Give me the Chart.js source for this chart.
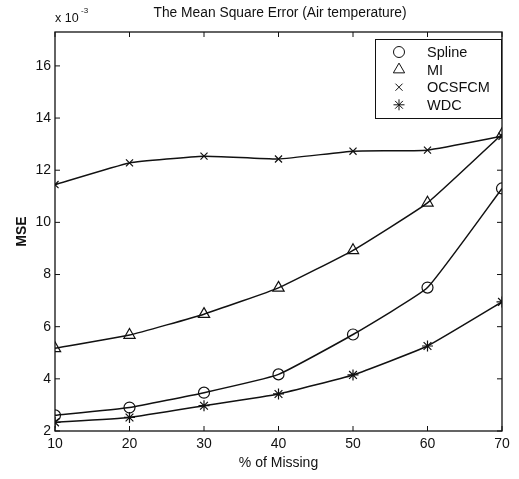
<!DOCTYPE html>
<html>
<head>
<meta charset="utf-8">
<script src="https://cdn.jsdelivr.net/npm/chart.js@4/dist/chart.umd.min.js"></script>
<style>
  html, body { margin: 0; padding: 0; background: #fff; }
  #wrap { width: 519px; height: 479px; }
</style>
</head>
<body>
<div id="wrap"><canvas id="mse-chart" width="519" height="479"></canvas></div>
<script>
// ---- Data: MSE (x 10^-3) per percentage of missing values ----
const missing = [10, 20, 30, 40, 50, 60, 70];
const spline = [2.6, 2.9, 3.47, 4.17, 5.7, 7.5, 11.3];
const mi = [5.17, 5.68, 6.48, 7.49, 8.93, 10.75, 13.38];
const ocsfcm = [11.45, 12.28, 12.54, 12.43, 12.73, 12.77, 13.3];
const wdc = [2.33, 2.52, 2.97, 3.42, 4.15, 5.26, 6.95];
const seriesNames = ['Spline', 'MI', 'OCSFCM', 'WDC'];
const yTicks = [2, 4, 6, 8, 10, 12, 14, 16];
const xTicks = [10, 20, 30, 40, 50, 60, 70];

const FONT = '"Liberation Sans", Arial, Helvetica, sans-serif';

function toPoints(values) {
    return values.map(function (v, i) {
        return { x: missing[i], y: v };
    });
}

function makeSeries(label, values, style, radius) {
    return {
        label: label,
        data: toPoints(values),
        borderColor: '#111',
        borderWidth: 1.5,
        pointStyle: style,
        pointRadius: radius,
        pointBorderColor: '#111',
        pointBorderWidth: 1.2,
        pointBackgroundColor: 'rgba(0,0,0,0)',
        tension: 0.12,
        fill: false
    };
}

const datasets = [
    makeSeries(seriesNames[0], spline, 'circle', 5.5),
    makeSeries(seriesNames[1], mi, 'triangle', 6.5),
    makeSeries(seriesNames[2], ocsfcm, 'crossRot', 5),
    makeSeries(seriesNames[3], wdc, 'star', 5.5)
];

// simple marker drawing for the legend box
function drawMarker(ctx, style, r, x, y) {
    ctx.beginPath();
    if (style === 'circle') {
        ctx.arc(x, y, r, 0, Math.PI * 2);
    } else if (style === 'triangle') {
        ctx.moveTo(x, y - r);
        ctx.lineTo(x + r * 0.87, y + r * 0.5);
        ctx.lineTo(x - r * 0.87, y + r * 0.5);
        ctx.closePath();
    } else if (style === 'crossRot') {
        const d = r * 0.707;
        ctx.moveTo(x - d, y - d); ctx.lineTo(x + d, y + d);
        ctx.moveTo(x - d, y + d); ctx.lineTo(x + d, y - d);
    } else {
        const d = r * 0.707;
        ctx.moveTo(x - r, y); ctx.lineTo(x + r, y);
        ctx.moveTo(x, y - r); ctx.lineTo(x, y + r);
        ctx.moveTo(x - d, y - d); ctx.lineTo(x + d, y + d);
        ctx.moveTo(x - d, y + d); ctx.lineTo(x + d, y - d);
    }
    ctx.stroke();
}

// ---- Frame with inward ticks, title and legend ----
const framePlugin = {
    id: 'frame',
    beforeDatasetsDraw(chart) {
        const ctx = chart.ctx;
        const a = chart.chartArea;
        const xs = chart.scales.x;
        const ys = chart.scales.y;
        const len = 5;
        ctx.save();
        ctx.strokeStyle = '#111';
        ctx.lineWidth = 1.3;
        ctx.strokeRect(a.left, a.top, a.right - a.left, a.bottom - a.top);
        ctx.lineWidth = 1;
        ctx.beginPath();
        xTicks.forEach(function (v) {
            const px = xs.getPixelForValue(v);
            ctx.moveTo(px, a.bottom); ctx.lineTo(px, a.bottom - len);
            ctx.moveTo(px, a.top); ctx.lineTo(px, a.top + len);
        });
        yTicks.forEach(function (v) {
            const py = ys.getPixelForValue(v);
            ctx.moveTo(a.left, py); ctx.lineTo(a.left + len, py);
            ctx.moveTo(a.right, py); ctx.lineTo(a.right - len, py);
        });
        ctx.stroke();
        ctx.restore();
    },
    afterDraw(chart) {
        const ctx = chart.ctx;
        const a = chart.chartArea;
        ctx.save();
        ctx.fillStyle = '#111';

        // title
        ctx.font = '13.8px ' + FONT;
        ctx.textAlign = 'center';
        ctx.textBaseline = 'middle';
        ctx.fillText('The Mean Square Error (Air temperature)', 280, 13);

        // exponent label
        ctx.textAlign = 'left';
        ctx.font = '12.5px ' + FONT;
        ctx.fillText('x 10', a.left, 19);
        ctx.font = '8px ' + FONT;
        ctx.fillText('-3', a.left + 26, 11);

        // legend box
        const bx = 375, by = 39, bw = 126, bh = 79;
        ctx.fillStyle = '#fff';
        ctx.fillRect(bx, by, bw, bh);
        ctx.strokeStyle = '#111';
        ctx.lineWidth = 1;
        ctx.strokeRect(bx + 0.5, by + 0.5, bw, bh);
        ctx.font = '14.5px ' + FONT;
        ctx.textBaseline = 'middle';
        chart.data.datasets.forEach(function (ds, i) {
            const ry = by + 13 + i * 17.6;
            ctx.strokeStyle = '#111';
            ctx.lineWidth = 1;
            drawMarker(ctx, ds.pointStyle, ds.pointRadius, 399, ry);
            ctx.fillStyle = '#111';
            ctx.fillText(ds.label, 427, ry + 1);
        });
        ctx.restore();
    }
};

const ctx = document.getElementById('mse-chart').getContext('2d');
new Chart(ctx, {
    type: 'line',
    data: { datasets: datasets },
    plugins: [framePlugin],
    options: {
        responsive: false,
        animation: false,
        devicePixelRatio: 1,
        layout: { padding: { top: 32, right: 17, bottom: 0, left: 0 } },
        plugins: {
            legend: { display: false },
            title: { display: false },
            tooltip: { enabled: false }
        },
        scales: {
            x: {
                type: 'linear',
                min: 10,
                max: 70,
                afterBuildTicks: function (s) {
                    s.ticks = xTicks.map(function (v) { return { value: v }; });
                },
                afterFit: function (s) { s.height = 48; },
                grid: { display: false, drawTicks: false },
                border: { display: false },
                ticks: {
                    color: '#111',
                    font: { family: FONT, size: 14 },
                    padding: 5,
                    maxRotation: 0,
                    autoSkip: false
                },
                title: {
                    display: true,
                    text: '% of Missing',
                    color: '#111',
                    font: { family: FONT, size: 14 },
                    padding: { top: 0, bottom: 7 }
                }
            },
            y: {
                type: 'linear',
                min: 2,
                max: 17.3,
                afterBuildTicks: function (s) {
                    s.ticks = yTicks.map(function (v) { return { value: v }; });
                },
                afterFit: function (s) { s.width = 55; },
                grid: { display: false, drawTicks: false },
                border: { display: false },
                ticks: {
                    color: '#111',
                    font: { family: FONT, size: 14 },
                    padding: 4
                },
                title: {
                    display: true,
                    text: 'MSE',
                    color: '#111',
                    font: { family: FONT, size: 14, weight: 'bold' },
                    padding: { top: 14, bottom: 0 }
                }
            }
        }
    }
});
</script>
</body>
</html>
